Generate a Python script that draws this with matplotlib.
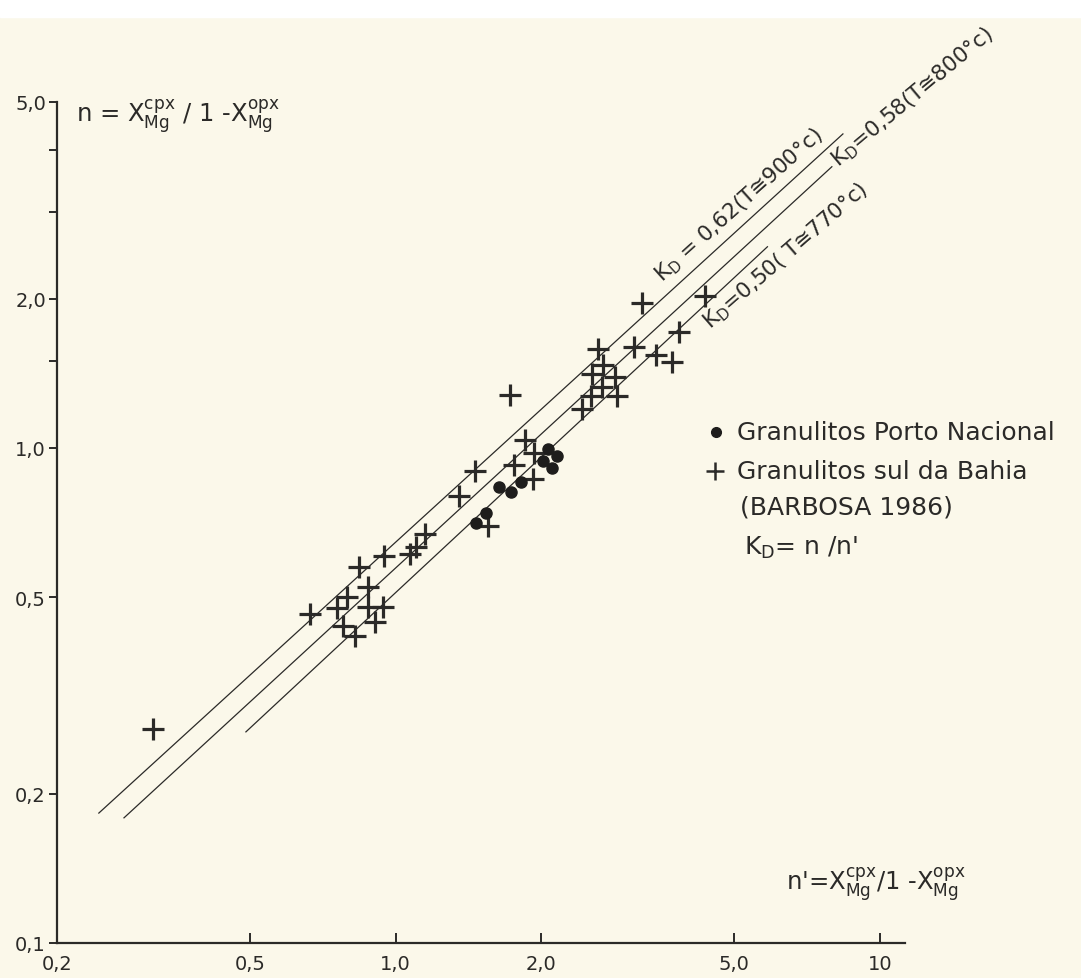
import numpy as np
import matplotlib
matplotlib.use('Agg')
import matplotlib.pyplot as plt
from matplotlib.patches import Rectangle
from matplotlib.ticker import FixedLocator, FixedFormatter, NullFormatter

plt.rcParams['font.family'] = 'DejaVu Sans'
plt.rcParams['mathtext.fontset'] = 'dejavusans'

# Granulitos sul da Bahia (BARBOSA 1986)  -> crosses
bahia_x = [0.316, 0.666, 0.757, 0.794, 0.841, 0.878, 0.878, 0.943, 0.908, 0.779,
           0.825, 0.947, 1.072, 1.104, 1.152, 1.355, 1.456, 1.549, 1.720, 1.753,
           1.848, 1.929, 1.920, 2.425, 2.532, 2.669, 2.866, 2.544, 2.839, 2.682,
           2.618, 3.108, 3.452, 3.726, 3.852, 3.230, 4.362]
bahia_y = [0.271, 0.462, 0.475, 0.500, 0.575, 0.524, 0.477, 0.477, 0.445, 0.437,
           0.417, 0.605, 0.611, 0.631, 0.671, 0.800, 0.898, 0.696, 1.280, 0.924,
           1.038, 0.977, 0.866, 1.199, 1.274, 1.328, 1.274, 1.411, 1.391, 1.472,
           1.585, 1.600, 1.541, 1.492, 1.716, 1.963, 2.028]

# Granulitos Porto Nacional -> dots
porto_x = [2.061, 2.153, 2.013, 2.102, 1.813, 1.632, 1.728, 1.541, 1.463]
porto_y = [0.995, 0.963, 0.941, 0.911, 0.854, 0.834, 0.815, 0.739, 0.706]

# K_D lines (end points)
kd062_x = [0.244, 8.39]
kd062_y = [0.183, 4.31]
kd058_x = [0.275, 7.96]
kd058_y = [0.179, 3.70]
kd050_x = [0.491, 5.86]
kd050_y = [0.267, 2.55]

x_ticks = [0.2, 0.5, 1.0, 2.0, 5.0, 10]
x_labels = ['0,2', '0,5', '1,0', '2,0', '5,0', '10']
y_ticks = [0.1, 0.2, 0.5, 1.0, 2.0, 5.0]
y_labels = ['0,1', '0,2', '0,5', '1,0', '2,0', '5,0']
y_minor = [1.5, 3.0, 4.0]

ink = '#2b2a28'
paper = '#fbf8ea'
W, H = 1081, 979

fig = plt.figure(figsize=(W / 100, H / 100), dpi=100, facecolor=paper)
fig.patches.append(Rectangle((0, 1 - 18 / H), 1, 18 / H, transform=fig.transFigure,
                             color='white', zorder=0))
ax = fig.add_axes([57 / W, 1 - 944 / H, (905 - 57) / W, (944 - 103) / H])
ax.set_facecolor('none')
ax.set_xscale('log')
ax.set_yscale('log')
ax.set_xlim(0.2, 11.27)
ax.set_ylim(0.1, 5.0)

for s in ['top', 'right']:
    ax.spines[s].set_visible(False)
for s in ['left', 'bottom']:
    ax.spines[s].set_linewidth(1.6)
    ax.spines[s].set_color(ink)

ax.xaxis.set_major_locator(FixedLocator(x_ticks))
ax.xaxis.set_major_formatter(FixedFormatter(x_labels))
ax.xaxis.set_minor_locator(FixedLocator([]))
ax.yaxis.set_major_locator(FixedLocator(y_ticks))
ax.yaxis.set_major_formatter(FixedFormatter(y_labels))
ax.yaxis.set_minor_locator(FixedLocator(y_minor))
ax.yaxis.set_minor_formatter(NullFormatter())
ax.tick_params(axis='x', which='major', direction='in', length=7, width=1.4,
               colors=ink, labelsize=14, pad=8)
ax.tick_params(axis='y', which='major', direction='out', length=6, width=1.4,
               colors=ink, labelsize=14, pad=2)
ax.tick_params(axis='y', which='minor', direction='out', length=6, width=1.4, colors=ink)

# K_D lines
for lx, ly in [(kd062_x, kd062_y), (kd058_x, kd058_y), (kd050_x, kd050_y)]:
    ax.plot(lx, ly, color=ink, lw=0.9)

ax.plot(bahia_x, bahia_y, linestyle='none', marker='+', ms=16, mew=2.3, color=ink)
ax.plot(porto_x, porto_y, linestyle='none', marker='o', ms=8, color='#1e1d1c')

# rotated line labels
fig.text(662 / W, 1 - 283 / H, r'$\mathregular{K_D}$ = 0,62(T≅900°c)', rotation=42,
         rotation_mode='anchor', ha='left', va='baseline', fontsize=15.5, color=ink)
fig.text(838 / W, 1 - 168 / H, r'$\mathregular{K_D}$=0,58(T≅800°c)', rotation=40,
         rotation_mode='anchor', ha='left', va='baseline', fontsize=15.5, color=ink)
fig.text(710 / W, 1 - 330 / H, r'$\mathregular{K_D}$=0,50( T≅770°c)', rotation=41,
         rotation_mode='anchor', ha='left', va='baseline', fontsize=15.5, color=ink)

# axis formulas
fig.text(76 / W, 1 - 122 / H,
         r'n = $\mathregular{X^{cpx}_{Mg}}$ / 1 -$\mathregular{X^{opx}_{Mg}}$',
         ha='left', va='baseline', fontsize=17.5, color=ink)
fig.text(786 / W, 1 - 890 / H,
         r"n'=$\mathregular{X^{cpx}_{Mg}}$/1 -$\mathregular{X^{opx}_{Mg}}$",
         ha='left', va='baseline', fontsize=17.5, color=ink)

# legend drawn by hand
fig.lines.append(plt.Line2D([716 / W], [1 - 433 / H], transform=fig.transFigure,
                            marker='o', ms=7, color='#1e1d1c', linestyle='none'))
fig.lines.append(plt.Line2D([715 / W], [1 - 472 / H], transform=fig.transFigure,
                            marker='+', ms=13, mew=1.8, color=ink, linestyle='none'))
fig.text(737 / W, 1 - 433 / H, 'Granulitos Porto Nacional', ha='left', va='center',
         fontsize=18, color=ink)
fig.text(737 / W, 1 - 472 / H, 'Granulitos sul da Bahia', ha='left', va='center',
         fontsize=18, color=ink)
fig.text(740 / W, 1 - 508 / H, '(BARBOSA 1986)', ha='left', va='center',
         fontsize=18, color=ink)
fig.text(744 / W, 1 - 548 / H, r"$\mathregular{K_D}$= n /n'", ha='left', va='center',
         fontsize=18, color=ink)

fig.savefig('out.png', dpi=100, facecolor=paper)
